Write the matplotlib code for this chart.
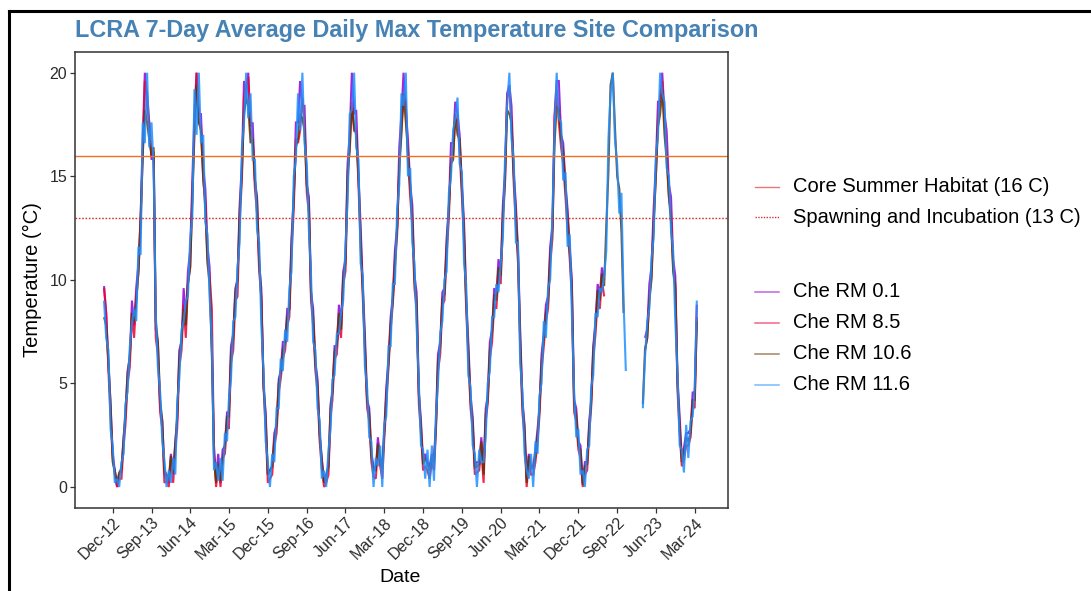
import numpy as np
import pandas as pd
import matplotlib
matplotlib.use("Agg")
import matplotlib.pyplot as plt
from matplotlib.lines import Line2D

plt.rcParams['font.family'] = ['Liberation Sans', 'DejaVu Sans']

nan = np.nan

# ---------------- data (semi-monthly readings: 1st and 16th of each month) ----------------
start_month = "2012-10-01"
end_month = "2024-03-01"

series_names = ["Che RM 0.1", "Che RM 8.5", "Che RM 10.6", "Che RM 11.6"]
series_colors = ["#9400D3", "#EE0030", "#663300", "#1E90FF"]

rm01 = [
    9.7, 8.4, 6.0, 4.0, 1.6, 0.8,  # 2012 Oct-Dec
    0.0, 0.6, 0.8, 2.4, 3.4, 5.6, 6.2, 9.0, 7.8, 9.6, 10.8, 13.0, 16.8, 20.0, 18.4, 17.6, 15.8, 16.0, 7.6, 7.0, 3.8, 3.2, 0.6, 0.4,  # 2013
    0.2, 1.6, 0.6, 2.2, 3.2, 6.6, 7.0, 9.6, 8.0, 10.4, 11.4, 14.8, 18.0, 20.0, 18.0, 18.0, 15.4, 14.4, 11.6, 10.6, 6.6, 2.0, 0.4, 1.6,  # 2014
    0.2, 1.8, 2.0, 3.6, 3.6, 6.8, 7.4, 9.6, 10.0, 13.6, 15.6, 19.6, 18.8, 20.0, 17.4, 17.6, 14.8, 14.0, 10.8, 9.6, 4.8, 3.6, 0.6, 0.8,  # 2015
    1.0, 2.6, 3.0, 5.2, 5.6, 7.0, 7.0, 8.6, 8.6, 12.0, 14.0, 17.6, 17.6, 19.6, 18.4, 18.4, 14.6, 14.0, 9.4, 8.6, 6.0, 5.2, 2.6, 1.4,  # 2016
    0.2, 0.6, 1.0, 4.0, 4.6, 6.8, 6.8, 8.8, 7.8, 10.4, 11.0, 15.6, 17.0, 20.0, 18.0, 18.2, 15.0, 12.6, 9.8, 7.4, 4.2, 3.8, 1.6, 1.0,  # 2017
    0.8, 2.4, 1.4, 1.0, 2.6, 4.8, 6.2, 8.2, 9.2, 11.4, 12.6, 16.4, 18.0, 20.0, 18.2, 16.8, 14.6, 13.6, 10.2, 9.4, 4.6, 3.2, 1.2, 1.6,  # 2018
    1.2, 1.0, 1.6, 1.4, 3.0, 6.4, 7.0, 9.4, 9.6, 12.0, 13.6, 16.6, 16.6, 18.6, 18.0, 17.0, 14.6, 12.8, 9.2, 7.0, 4.4, 3.4, 1.0, 1.2,  # 2019
    1.2, 2.4, 0.8, 3.8, 4.4, 7.0, 7.6, 9.6, 9.2, 11.0, 10.4, 13.6, 15.2, 19.0, 19.4, 18.4, 15.2, 13.6, 11.4, 7.6, 4.2, 3.0, 0.4, 1.6,  # 2020
    1.0, 1.0, 1.8, 2.8, 3.8, 6.4, 7.4, 8.8, 9.2, 11.6, 12.6, 18.0, 19.6, 19.6, 17.0, 16.6, 14.6, 13.4, 11.6, 10.0, 4.2, 3.8, 2.2, 2.0,  # 2021
    0.2, 1.2, 1.2, 3.2, 4.2, 6.8, 8.0, 9.8, 9.2, 10.6, 10.0, nan, nan, nan, nan, nan, nan, nan, nan, nan, nan, nan, nan, nan,  # 2022
    nan, nan, nan, nan, nan, 7.2, 7.6, 9.8, 10.6, 13.4, 15.6, 18.6, 18.6, 20.0, 18.0, 17.2, 14.6, 14.0, 11.0, 10.2, 5.2, 3.4, 1.4, 1.9,  # 2023
    2.6, 2.6, 2.8, 4.6, 4.4, 8.8,  # 2024 Jan-Mar
]

rm85 = [
    9.6, 8.4, 5.6, 3.4, 1.4, 0.6,  # 2012
    0.0, 0.4, 0.4, 2.0, 3.0, 5.0, 5.8, 8.4, 7.2, 9.0, 10.4, 12.6, 16.0, 19.6, 19.0, 17.6, 16.0, 16.2, 7.2, 6.4, 3.6, 2.8, 0.2, 0.3,  # 2013
    0.0, 1.3, 0.2, 1.8, 2.8, 5.8, 6.6, 8.8, 7.2, 9.8, 10.6, 14.0, 17.4, 20.0, 17.6, 17.4, 14.8, 13.8, 11.0, 10.2, 8.6, 1.6, 0.0, 1.2,  # 2014
    0.0, 1.4, 1.6, 3.0, 2.8, 6.0, 6.6, 9.0, 9.2, 12.8, 14.8, 18.8, 19.4, 19.8, 17.2, 16.8, 14.4, 13.2, 10.4, 9.2, 4.8, 2.8, 0.2, 0.4,  # 2015
    0.6, 2.0, 2.6, 4.6, 5.2, 6.2, 6.6, 7.8, 8.2, 11.2, 13.4, 16.8, 16.6, 17.2, 18.8, 17.6, 14.2, 13.2, 9.0, 7.8, 5.6, 4.6, 2.2, 0.9,  # 2016
    0.0, 0.2, 0.6, 3.4, 4.2, 6.2, 6.4, 8.0, 7.2, 9.8, 10.4, 14.6, 16.6, 18.6, 17.2, 17.2, 14.6, 11.6, 9.2, 6.6, 3.8, 3.2, 1.2, 0.5,  # 2017
    0.4, 1.8, 1.0, 0.4, 2.2, 4.0, 5.8, 7.6, 8.8, 10.6, 12.2, 15.6, 17.4, 18.8, 18.6, 15.8, 14.0, 12.6, 9.6, 8.6, 4.0, 2.6, 0.8, 1.0,  # 2018
    0.8, 0.4, 1.2, 0.8, 2.6, 5.6, 6.4, 8.8, 9.0, 11.2, 13.0, 15.8, 16.0, 17.8, 17.6, 16.2, 14.0, 11.8, 8.6, 6.2, 3.8, 2.8, 0.6, 0.7,  # 2019
    0.8, 1.8, 0.2, 3.2, 4.0, 6.2, 7.0, 8.8, 8.6, 10.2, 9.8, 12.8, 14.6, 18.8, 19.2, 17.6, 14.6, 12.6, 10.8, 6.8, 3.6, 2.4, 0.0, 1.2,  # 2020
    0.6, 0.6, 1.2, 2.2, 3.4, 5.6, 6.8, 8.0, 8.6, 10.8, 12.0, 17.8, 19.2, 17.6, 16.4, 15.6, 14.0, 12.4, 11.0, 9.2, 3.6, 3.2, 1.8, 1.4,  # 2021
    0.0, 0.6, 0.8, 2.6, 3.8, 6.2, 7.4, 9.0, 8.6, 10.0, 9.2, nan, nan, nan, nan, nan, nan, nan, nan, nan, nan, nan, nan, nan,  # 2022
    nan, nan, nan, nan, nan, 6.6, 7.2, 9.2, 10.2, 12.8, 15.0, 17.8, 18.8, 19.6, 17.6, 16.2, 14.0, 13.2, 10.6, 9.8, 4.6, 2.6, 1.0, 1.3,  # 2023
    2.0, 2.0, 2.4, 4.0, 3.8, 8.2,  # 2024
]

rm106 = [
    8.2, 7.8, 6.0, 4.0, 1.2, 0.8,  # 2012
    0.2, 0.7, 0.9, 2.3, 3.6, 5.4, 6.4, 8.4, 8.0, 9.0, 10.4, 13.0, 16.0, 18.2, 17.6, 16.8, 16.0, 16.4, 8.0, 7.0, 4.2, 3.2, 0.8, 0.6,  # 2013
    0.4, 1.5, 0.7, 2.1, 3.4, 6.2, 7.2, 8.6, 7.8, 9.8, 10.6, 13.8, 17.0, 19.4, 17.6, 17.2, 15.0, 13.4, 10.8, 9.8, 6.4, 1.4, 0.2, 1.1,  # 2014
    0.3, 1.3, 2.0, 3.4, 3.4, 6.4, 7.2, 9.4, 10.0, 13.2, 15.2, 18.0, 18.8, 18.4, 16.6, 16.8, 14.8, 13.8, 11.0, 9.0, 5.0, 3.2, 0.6, 0.8,  # 2015
    1.0, 2.3, 3.0, 5.0, 5.6, 6.6, 7.0, 8.2, 8.6, 11.6, 14.0, 16.4, 16.8, 18.0, 17.8, 17.2, 14.6, 13.6, 9.4, 8.2, 5.9, 4.9, 2.5, 1.3,  # 2016
    0.2, 0.5, 1.0, 3.8, 4.6, 6.5, 6.9, 8.4, 7.6, 10.1, 10.8, 15.2, 16.2, 18.4, 17.4, 17.0, 15.0, 12.0, 9.6, 6.9, 4.2, 3.5, 1.5, 0.8,  # 2017
    0.8, 2.1, 1.3, 0.9, 2.5, 4.4, 6.0, 7.9, 9.0, 10.9, 12.5, 15.4, 17.0, 19.0, 17.6, 16.2, 14.5, 13.0, 10.0, 9.0, 4.5, 2.9, 1.1, 1.4,  # 2018
    1.1, 0.8, 1.4, 1.2, 2.8, 6.1, 6.8, 9.1, 9.3, 11.6, 13.5, 15.6, 15.8, 18.0, 17.0, 16.8, 14.4, 12.3, 9.0, 6.6, 4.1, 3.1, 0.9, 1.0,  # 2019
    1.1, 2.2, 0.6, 3.5, 4.2, 6.6, 7.5, 9.3, 9.0, 10.6, 10.2, 13.2, 14.8, 18.2, 18.0, 17.6, 15.0, 13.2, 11.2, 7.2, 4.0, 2.8, 0.2, 1.5,  # 2020
    0.9, 0.9, 1.5, 2.5, 3.7, 6.0, 7.2, 8.4, 8.9, 11.2, 12.4, 16.6, 18.4, 18.2, 16.8, 16.2, 14.4, 13.0, 11.4, 9.6, 4.0, 3.5, 2.0, 1.8,  # 2021
    0.1, 1.0, 1.1, 3.0, 4.0, 6.6, 7.8, 9.5, 9.0, 10.3, 9.7, 12.6, 15.2, 19.4, 20.0, 17.4, 15.0, 14.4, 12.3, 8.4, nan, nan, nan, nan,  # 2022
    nan, nan, nan, nan, 4.0, 6.6, 7.2, 9.0, 10.0, 12.6, 15.0, 17.4, 18.0, 19.2, 17.0, 15.8, 14.0, 12.8, 10.4, 9.6, 5.0, 2.9, 1.2, 1.6,  # 2023
    2.4, 2.2, 2.6, 4.2, 4.2, 8.0,  # 2024
]

rm116 = [
    9.0, 7.2, 6.6, 2.8, 2.0, 0.2,  # 2012
    0.4, 0.0, 1.2, 1.6, 4.0, 4.6, 6.8, 7.9, 8.6, 8.0, 11.6, 11.2, 17.6, 16.6, 20.0, 16.4, 17.6, 15.4, 8.4, 5.8, 4.6, 2.2, 1.3, 0.0,  # 2013
    0.8, 0.2, 1.4, 0.6, 4.0, 5.2, 7.6, 8.0, 9.0, 9.2, 12.0, 13.0, 19.2, 17.0, 20.0, 16.6, 17.0, 12.8, 12.2, 9.2, 7.0, 0.8, 1.2, 0.3,  # 2014
    1.4, 0.3, 2.6, 2.2, 4.2, 5.2, 8.0, 8.2, 10.6, 11.8, 16.4, 17.6, 20.0, 17.8, 19.0, 15.8, 15.8, 12.4, 11.8, 7.8, 5.6, 2.2, 1.2, 0.0,  # 2015
    1.6, 1.2, 3.8, 3.8, 6.2, 5.6, 7.6, 7.0, 9.6, 10.4, 15.0, 15.8, 19.0, 17.2, 20.0, 16.6, 15.6, 12.4, 10.2, 7.0, 6.6, 3.8, 3.2, 0.4,  # 2016
    0.8, 0.0, 1.8, 2.8, 5.2, 5.4, 7.4, 7.4, 8.4, 9.0, 11.6, 13.8, 18.0, 18.2, 20.0, 16.4, 15.8, 10.8, 10.2, 5.8, 4.8, 2.4, 2.2, 0.0,  # 2017
    1.4, 1.0, 2.0, 0.0, 3.0, 3.4, 6.8, 6.8, 9.8, 9.8, 13.4, 14.6, 19.0, 18.4, 20.0, 15.0, 15.4, 11.8, 10.8, 7.8, 5.0, 2.0, 1.8, 0.4,  # 2018
    1.8, 0.0, 2.0, 0.3, 3.4, 5.0, 7.4, 8.0, 10.0, 10.4, 14.2, 15.0, 17.2, 17.8, 18.8, 15.6, 15.2, 10.8, 9.8, 5.4, 4.8, 2.0, 1.6, 0.0,  # 2019
    1.8, 1.2, 1.2, 2.4, 5.0, 5.6, 8.2, 8.2, 9.8, 9.4, 10.8, 12.0, 15.8, 18.4, 20.0, 16.8, 15.8, 11.8, 11.8, 6.0, 4.6, 1.6, 0.8, 0.4,  # 2020
    1.6, 0.0, 2.2, 1.6, 4.4, 5.0, 8.0, 7.2, 9.6, 10.0, 13.2, 17.2, 20.0, 17.8, 17.6, 14.8, 15.2, 11.6, 12.2, 8.4, 4.6, 2.4, 2.8, 0.6,  # 2021
    0.8, 0.0, 1.8, 2.0, 4.8, 5.4, 8.4, 8.2, 9.6, 9.4, 10.2, 11.4, 16.8, 19.0, 20.0, 16.8, 15.6, 13.2, 14.2, 9.0, 5.6, nan, nan, nan,  # 2022
    nan, nan, nan, nan, 3.8, 6.2, 8.0, 8.6, 11.0, 12.0, 16.0, 17.0, 20.0, 19.0, 18.6, 15.4, 15.0, 12.4, 11.4, 8.0, 5.4, 2.0, 1.8, 0.7,  # 2023
    3.0, 1.4, 3.2, 3.4, 4.8, 9.0,  # 2024
]

threshold_names = ["Core Summer Habitat (16 C)", "Spawning and Incubation (13 C)"]
threshold_values = [16, 13]

tick_start = "2012-12-01"
tick_end = "2024-03-01"

title = "LCRA 7-Day Average Daily Max Temperature Site Comparison"
xlabel = "Date"
ylabel = "Temperature (\u00b0C)"

# ---------------- build dates ----------------
months = pd.date_range(start_month, end_month, freq="MS")
dates = pd.DatetimeIndex(sorted(list(months) + list(months + pd.Timedelta(days=15))))

W, H = 1091, 591
fig = plt.figure(figsize=(W / 100, H / 100), dpi=100)
fig.patch.set_facecolor("white")

def fx(px):
    return px / W

def fy(py):
    return 1 - py / H

L, R, T, B = 75, 727.7, 52, 507.7
ax = fig.add_axes([fx(L), fy(B), fx(R - L), fy(T) - fy(B)])

for vals, col in zip([rm01, rm85, rm106, rm116], series_colors):
    v = np.array(vals, dtype=float)
    n = min(len(v), len(dates))
    ax.plot(dates[:n], v[:n], color=col, lw=1.5, alpha=0.85,
            solid_joinstyle="miter", solid_capstyle="butt")

ax.axhline(threshold_values[0], color="#F07020", lw=1.0)
ax.axhline(threshold_values[1], color="#D03535", lw=1.0, linestyle=(0, (1.2, 1.2)))

ax.set_xlim(pd.Timestamp("2012-03-10"), pd.Timestamp("2024-10-20"))
ax.set_ylim(-1, 21)
ax.set_yticks([0, 5, 10, 15, 20])
ticks = pd.date_range(tick_start, tick_end, freq="9MS")
ax.set_xticks(ticks)
ax.set_xticklabels([t.strftime("%b-%y") for t in ticks], rotation=45, ha="right",
                   va="top", rotation_mode="anchor")

for s in ax.spines.values():
    s.set_color("#333333")
    s.set_linewidth(1.1)
ax.tick_params(axis="both", length=3.5, width=0.9, color="#333333", labelcolor="#2b2b2b",
               labelsize=11.5, pad=2)

fig.text(fx(400), fy(578), xlabel, ha="center", va="center", fontsize=14, color="black")
fig.text(fx(32), fy(280), ylabel, ha="center", va="center", rotation=90, fontsize=14.5,
         color="black")
fig.text(fx(75), fy(31), title, ha="left", va="center", fontsize=16.8, fontweight="bold",
         color="#4682B4")

# ---------------- legend ----------------
leg_rows = [186.7, 217.3]
leg_cols = ["#E87878", "#D03535"]
leg_styles = ["-", (0, (1.0, 1.0))]
for yy, name, c, ls in zip(leg_rows, threshold_names, leg_cols, leg_styles):
    fig.add_artist(Line2D([fx(755), fx(779)], [fy(yy), fy(yy)], color=c, lw=1.0, linestyle=ls))
    fig.text(fx(793), fy(yy), name, ha="left", va="center", fontsize=14.5, color="black")

ser_rows = [291.7, 322.7, 353.5, 384.5]
for yy, name, c in zip(ser_rows, series_names, series_colors):
    fig.add_artist(Line2D([fx(755), fx(779)], [fy(yy), fy(yy)], color=c, lw=1.1, alpha=0.6))
    fig.text(fx(793), fy(yy), name, ha="left", va="center", fontsize=14.5, color="black")

# outer frame of the screenshot
fig.add_artist(Line2D([fx(9), fx(9)], [fy(11), 0], color="black", lw=2.2))
fig.add_artist(Line2D([fx(9), 1], [fy(11), fy(11)], color="black", lw=2.2))

fig.savefig("out.png", dpi=100, facecolor="white")
